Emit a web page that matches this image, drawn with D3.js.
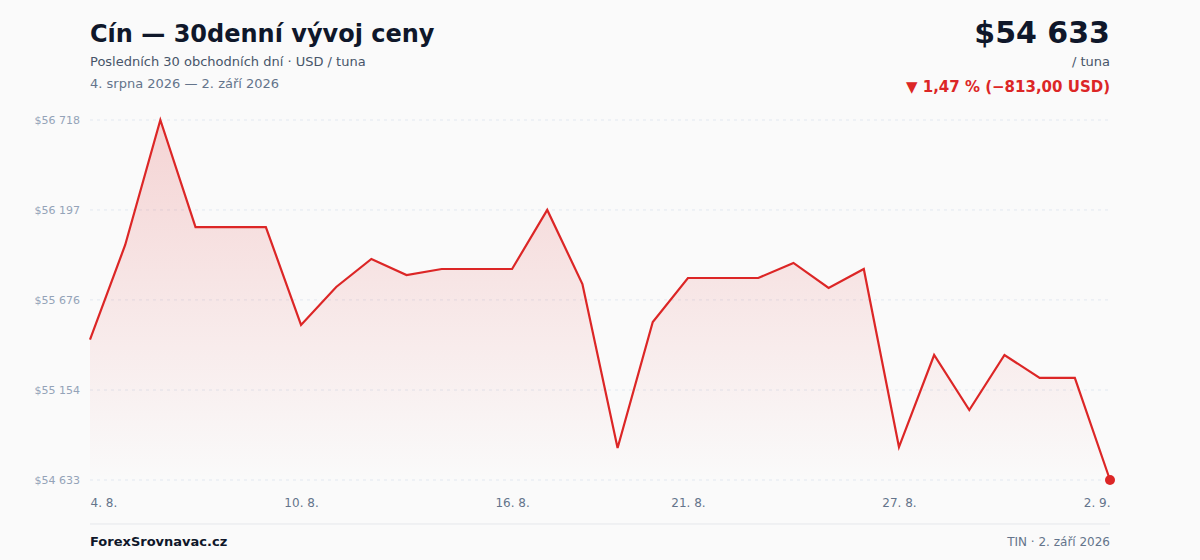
<!DOCTYPE html>
<html><head><meta charset="utf-8">
<script src="https://cdn.jsdelivr.net/npm/d3@7/dist/d3.min.js"></script>
<style>
html,body{margin:0;padding:0;background:#fafafa;}
svg{display:block;font-family:"DejaVu Sans",sans-serif;}
</style></head>
<body><svg id="c" width="1200" height="560"></svg>
<script>
const dates = ["4. 8.","5. 8.","6. 8.","7. 8.","8. 8.","9. 8.","10. 8.","11. 8.","12. 8.","13. 8.","14. 8.","15. 8.","16. 8.","17. 8.","18. 8.","19. 8.","20. 8.","21. 8.","22. 8.","23. 8.","24. 8.","25. 8.","26. 8.","27. 8.","28. 8.","29. 8.","30. 8.","31. 8.","1. 9.","2. 9."];
const prices = [55446,55994,56718,56098,56098,56098,55531,55751,55913,55820,55855,55855,55855,56197,55768,54818,55548,55803,55803,55803,55890,55745,55855,54824,55357,55038,55357,55224,55224,54633];
const xTickLabels = ["4. 8.","10. 8.","16. 8.","21. 8.","27. 8.","2. 9."];
const yTicks = [54633,55154,55676,56197,56718];

const svg = d3.select("#c");
const L=90, R=1110, T=120, B=480;
const x = d3.scalePoint().domain(dates).range([L,R]);
const yMin = d3.min(prices), yMax = d3.max(prices);
const y = d3.scaleLinear().domain([yMin,yMax]).range([B,T]);
const fmt = v => "$" + d3.format(",")(Math.round(v)).replace(/,/g," ");

const defs = svg.append("defs");
const g = defs.append("linearGradient").attr("id","ag").attr("x1",0).attr("x2",0).attr("y1",0).attr("y2",1);
g.append("stop").attr("offset","0%").attr("stop-color","#dc2626").attr("stop-opacity",0.18);
g.append("stop").attr("offset","100%").attr("stop-color","#dc2626").attr("stop-opacity",0.0);

// grid
svg.append("g").selectAll("line").data(yTicks).join("line")
  .attr("x1",L).attr("x2",R).attr("y1",d=>y(d)).attr("y2",d=>y(d))
  .attr("stroke","#e2e8f0").attr("stroke-dasharray","3,4").attr("stroke-width",1);
const yAxis = d3.axisLeft(y).tickValues(yTicks).tickSize(0).tickPadding(0).tickFormat(fmt);
const ga = svg.append("g").attr("transform",`translate(${L-10},0)`).call(yAxis);
ga.select(".domain").remove();
ga.selectAll("text").attr("fill","#94a3b8").attr("font-size",11).attr("font-family","DejaVu Sans");

// area & line
const area = d3.area().x((d,i)=>x(dates[i])).y0(B).y1(d=>y(d));
svg.append("path").datum(prices).attr("d",area).attr("fill","url(#ag)");
const line = d3.line().x((d,i)=>x(dates[i])).y(d=>y(d));
svg.append("path").datum(prices).attr("d",line).attr("fill","none").attr("stroke","#dc2626").attr("stroke-width",2.2).attr("stroke-linejoin","miter");
svg.append("circle").attr("cx",x(dates[dates.length-1])).attr("cy",y(prices[prices.length-1])).attr("r",5).attr("fill","#dc2626");

// x axis
const xAxis = d3.axisBottom(x).tickValues(xTickLabels).tickSize(0);
const gx = svg.append("g").attr("transform",`translate(0,${B+15})`).call(xAxis);
gx.select(".domain").remove();
gx.selectAll("text").attr("fill","#64748b").attr("font-size",12).attr("font-family","DejaVu Sans")
  .attr("text-anchor",(d,i)=> i===0?"start":(i===xTickLabels.length-1?"end":"middle"));

// header
svg.append("text").attr("x",L).attr("y",42).text("Cín — 30denní vývoj ceny").attr("font-size",24).attr("font-weight","bold").attr("fill","#0f172a");
svg.append("text").attr("x",L).attr("y",66).text("Posledních 30 obchodních dní · USD / tuna").attr("font-size",13).attr("fill","#475569");
svg.append("text").attr("x",L).attr("y",88).text("4. srpna 2026 — 2. září 2026").attr("font-size",13).attr("fill","#64748b");

const last = prices[prices.length-1], first = prices[0];
const diff = last-first, pct = diff/first*100;
svg.append("text").attr("x",R).attr("y",43).attr("text-anchor","end").text(fmt(last)).attr("font-size",30).attr("font-weight","bold").attr("fill","#0f172a");
svg.append("text").attr("x",R).attr("y",66).attr("text-anchor","end").text("/ tuna").attr("font-size",13).attr("fill","#475569");
const pctStr = Math.abs(pct).toFixed(2).replace(".",",");
const diffStr = (diff<0?"−":"+") + Math.abs(diff).toFixed(2).replace(".",",");
svg.append("text").attr("x",R).attr("y",92).attr("text-anchor","end").text(`▼ ${pctStr} % (${diffStr} USD)`).attr("font-size",15).attr("font-weight","bold").attr("fill","#dc2626");

// footer
svg.append("line").attr("x1",L).attr("x2",R).attr("y1",524).attr("y2",524).attr("stroke","#e5e7eb").attr("stroke-width",1);
svg.append("text").attr("x",L).attr("y",546).text("ForexSrovnavac.cz").attr("font-size",13).attr("font-weight","bold").attr("fill","#0f172a");
svg.append("text").attr("x",R).attr("y",546).attr("text-anchor","end").text("TIN · 2. září 2026").attr("font-size",12).attr("fill","#64748b");
</script></body></html>
